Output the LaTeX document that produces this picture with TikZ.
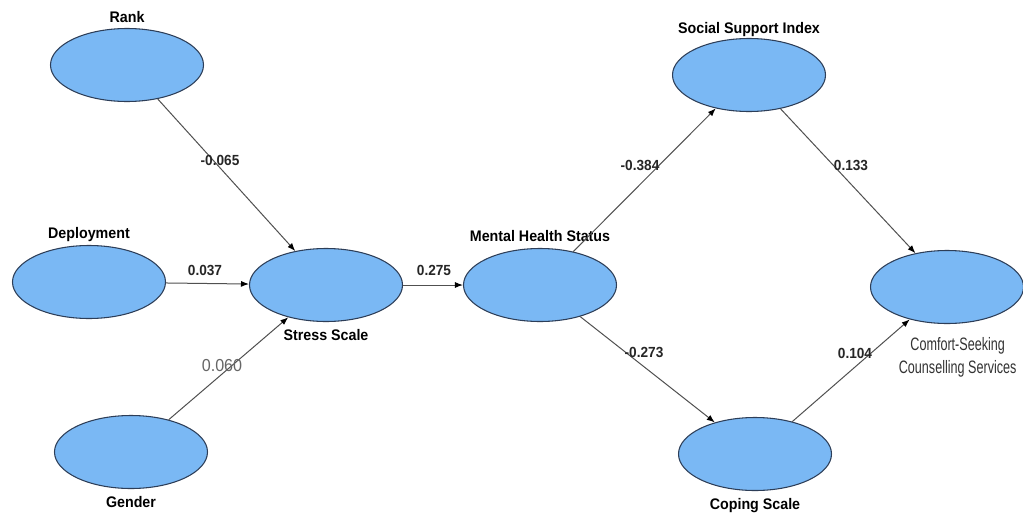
\documentclass[tikz,border=0pt]{standalone}
\usepackage{fontspec}
\newfontfamily\lblfont[FakeStretch=0.93]{Liberation Sans}
\newfontfamily\narrowfont[FakeStretch=0.7]{Liberation Sans}
\usetikzlibrary{positioning,shapes.geometric,arrows.meta}
\definecolor{latent}{RGB}{122,184,244}
\definecolor{rim}{RGB}{45,62,88}
\definecolor{pathgray}{RGB}{80,80,80}

\begin{document}
\begin{tikzpicture}[x=0.75pt,y=-0.75pt,
		construct/.style={ellipse, draw=rim, fill=latent, line width=0.8pt,
			minimum width=114.75pt, minimum height=54.75pt, inner sep=0pt},
		varlabel/.style={font=\lblfont\bfseries\fontsize{11.5}{13}\selectfont,
			text height=8pt, text depth=2pt, inner sep=1pt},
		coef/.style={font=\lblfont\bfseries\fontsize{11}{13}\selectfont, text=black!85, inner sep=0pt},
		pathline/.style={draw=pathgray, line width=0.75pt, -{Latex[length=6pt,width=4.5pt,color=black]}}]
	\useasboundingbox[fill=white] (0,0) rectangle (1023,514);

	\node[construct] (rank) at (127,65) {};
	\node[construct] (deploy) at (89,282) {};
	\node[construct] (gender) at (131,452) {};
	\node[construct] (stress) at (326,285) {};
	\node[construct] (mhs) at (540,285) {};
	\node[construct] (ssi) at (749,75) {};
	\node[construct] (coping) at (755,454) {};
	\node[construct] (comfort) at (947,287) {};

	\node[varlabel, above=1pt of rank] (rank-l) {Rank};
	\node[varlabel, above=1.3pt of deploy] (deploy-l) {Deployment};
	\node[varlabel, below=4.5pt of gender] (gender-l) {Gender};
	\node[varlabel, below=4.5pt of stress] (stress-l) {Stress Scale};
	\node[varlabel, above=2pt of mhs] (mhs-l) {Mental Health Status};
	\node[varlabel, above=0pt of ssi] (ssi-l) {Social Support Index};
	\node[varlabel, below=4.5pt of coping] (coping-l) {Coping Scale};
	\node[below=10pt of comfort, xshift=8pt, inner sep=0pt, align=center, text=black!80,
		font=\narrowfont\fontsize{13.5}{17}\selectfont] (comfort-l) {Comfort-Seeking\\Counselling Services};

	\draw[pathline] (rank) -- (stress);
	\draw[pathline] (deploy) -- (stress);
	\draw[pathline] (gender) -- (stress);
	\draw[pathline] (stress) -- (mhs);
	\draw[pathline] (mhs) -- (ssi);
	\draw[pathline] (mhs) -- (coping);
	\draw[pathline] (ssi) -- (comfort);
	\draw[pathline] (coping) -- (comfort);

	\node[coef] (c-rank) at (220,160) {-0.065};
	\node[coef] (c-deploy) at (205,270) {0.037};
	\node[coef, font=\lblfont\fontsize{13}{15}\selectfont, text=black!60] (c-gender) at (222,366) {0.060};
	\node[coef] (c-stress) at (434,270) {0.275};
	\node[coef] (c-ssi) at (640,165) {-0.384};
	\node[coef] (c-coping) at (644,352) {-0.273};
	\node[coef] (c-ssi2) at (851,165) {0.133};
	\node[coef] (c-coping2) at (855,353) {0.104};
\end{tikzpicture}
\end{document}
